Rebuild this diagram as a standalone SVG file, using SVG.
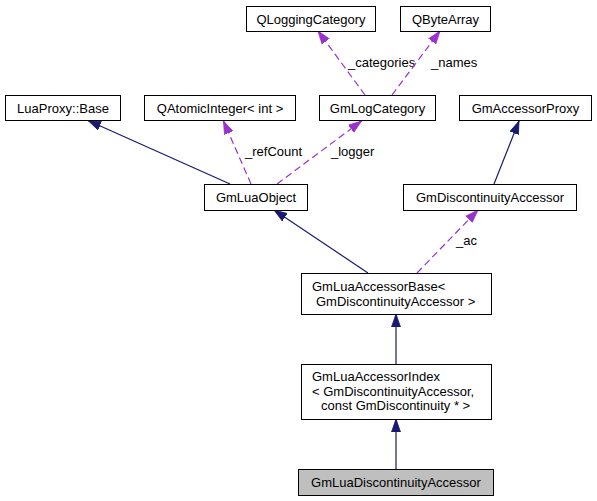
<svg xmlns="http://www.w3.org/2000/svg" width="597" height="501" viewBox="0 0 597 501">
<style>
.box{fill:#ffffff;stroke:#000000;stroke-width:1}
.cur{fill:#bfbfbf;stroke:#000000;stroke-width:1}
text{font-family:"Liberation Sans",Arial,sans-serif;font-size:13px;fill:#000000}
.c{text-anchor:middle}
.inh{stroke:#191970;stroke-width:1.2;fill:none}
.use{stroke:#9a32cd;stroke-width:1.2;fill:none;stroke-dasharray:7,4}
</style>
<defs>
<marker id="an" markerUnits="userSpaceOnUse" markerWidth="14" markerHeight="12" refX="13" refY="0" viewBox="0 -6 14 12" orient="auto">
<path d="M0,-4.5 L13,0 L0,4.5 Z" fill="#191970" stroke="#191970" stroke-width="0.8"/>
</marker>
<marker id="ap" markerUnits="userSpaceOnUse" markerWidth="14" markerHeight="12" refX="13" refY="0" viewBox="0 -6 14 12" orient="auto">
<path d="M0,-4.5 L13,0 L0,4.5 Z" fill="#9a32cd" stroke="#9a32cd" stroke-width="0.8"/>
</marker>
</defs>
<g id="connectors">
<line class="inh" x1="230" y1="184" x2="88" y2="120.5" marker-end="url(#an)"/>
<line class="use" x1="251" y1="184" x2="223.5" y2="121" marker-end="url(#ap)"/>
<text x="245" y="156">_refCount</text>
<line class="use" x1="277" y1="184" x2="361.5" y2="121" marker-end="url(#ap)"/>
<text x="331" y="156">_logger</text>
<line class="use" x1="365" y1="95" x2="318" y2="31" marker-end="url(#ap)"/>
<text x="348" y="67">_categories</text>
<line class="use" x1="392" y1="95" x2="440" y2="31" marker-end="url(#ap)"/>
<text x="431" y="67">_names</text>
<line class="inh" x1="494" y1="184" x2="519" y2="121" marker-end="url(#an)"/>
<line class="inh" x1="368" y1="273" x2="274" y2="210" marker-end="url(#an)"/>
<line class="use" x1="417" y1="273" x2="478" y2="210" marker-end="url(#ap)"/>
<text x="456" y="245">_ac</text>
<line class="inh" x1="396" y1="364" x2="396" y2="314" marker-end="url(#an)"/>
<line class="inh" x1="396" y1="469" x2="396" y2="419" marker-end="url(#an)"/>
</g>
<g id="QLoggingCategory">
<rect class="box" x="246.5" y="6.5" width="129" height="25"/>
<text class="c" x="311" y="23.5">QLoggingCategory</text>
</g>
<g id="QByteArray">
<rect class="box" x="400.5" y="6.5" width="90" height="25"/>
<text class="c" x="445.5" y="23.5">QByteArray</text>
</g>
<g id="LuaProxyBase">
<rect class="box" x="5.5" y="95.5" width="115" height="25"/>
<text class="c" x="63" y="112.5">LuaProxy::Base</text>
</g>
<g id="QAtomicInteger">
<rect class="box" x="144.5" y="95.5" width="151" height="25"/>
<text class="c" x="220" y="112.5">QAtomicInteger&lt; int &gt;</text>
</g>
<g id="GmLogCategory">
<rect class="box" x="319.5" y="95.5" width="116" height="25"/>
<text class="c" x="377.5" y="112.5">GmLogCategory</text>
</g>
<g id="GmAccessorProxy">
<rect class="box" x="459.5" y="95.5" width="132" height="25"/>
<text class="c" x="525.5" y="112.5">GmAccessorProxy</text>
</g>
<g id="GmLuaObject">
<rect class="box" x="204.5" y="184.5" width="103" height="26"/>
<text class="c" x="256" y="202">GmLuaObject</text>
</g>
<g id="GmDiscontinuityAccessor">
<rect class="box" x="403.5" y="184.5" width="173" height="26"/>
<text class="c" x="490" y="202">GmDiscontinuityAccessor</text>
</g>
<g id="GmLuaAccessorBase">
<rect class="box" x="301.5" y="273.5" width="190" height="41"/>
<text x="312" y="290.5">GmLuaAccessorBase&lt;</text>
<text x="316" y="305.5">GmDiscontinuityAccessor &gt;</text>
</g>
<g id="GmLuaAccessorIndex">
<rect class="box" x="301.5" y="364.5" width="190" height="55"/>
<text x="312" y="381">GmLuaAccessorIndex</text>
<text x="312" y="395.5">&lt; GmDiscontinuityAccessor,</text>
<text x="321" y="410">const GmDiscontinuity * &gt;</text>
</g>
<g id="GmLuaDiscontinuityAccessor">
<rect class="cur" x="298.5" y="469.5" width="195" height="26"/>
<text class="c" x="396" y="487">GmLuaDiscontinuityAccessor</text>
</g>
</svg>
